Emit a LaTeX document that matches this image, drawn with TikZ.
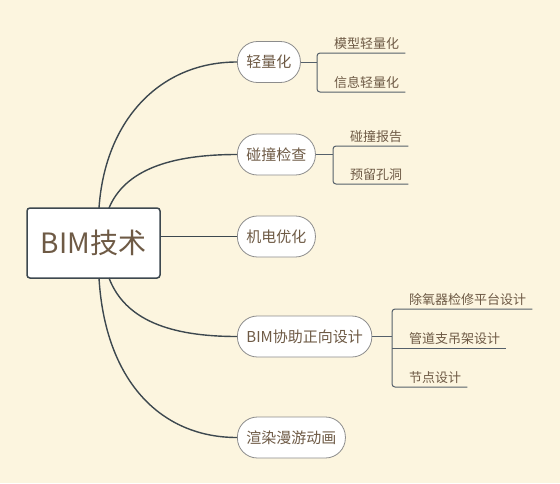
\documentclass[tikz,border=0pt]{standalone}
\usepackage{fontspec}
\setmainfont{Noto Sans CJK SC}
\usetikzlibrary{positioning}
\definecolor{Canvas}{HTML}{FCF5DF}
\definecolor{Ink}{HTML}{6E5A45}
\definecolor{Wire}{HTML}{3D484F}
\definecolor{Rim}{HTML}{8C8C8C}
\definecolor{Stem}{HTML}{55606A}

\begin{document}
\begin{tikzpicture}[
    x=1pt, y=-1pt,
    text=Ink,
    rootbox/.style={
        rounded corners=3pt,
        draw=Wire,
        line width=1.5pt,
        fill=white,
        minimum width=133pt,
        minimum height=70pt,
        font=\fontsize{28}{33}\selectfont
    },
    topic/.style={
        rounded corners=20pt,
        draw=Rim,
        line width=0.8pt,
        fill=white,
        anchor=west,
        inner xsep=9pt,
        minimum height=41pt,
        minimum width=41pt,
        font=\fontsize{15}{18}\selectfont
    },
    leaf/.style={
        anchor=south west,
        inner xsep=6pt,
        inner ysep=3pt,
        font=\fontsize{13}{15}\selectfont
    },
    branch/.style={
        draw=Wire,
        line width=1.4pt
    },
    bracket/.style={
        draw=Stem,
        line width=1pt
    }
]

% Background
\fill[Canvas] (0,0) rectangle (560,483);
\useasboundingbox (0,0) rectangle (560,483);

% Central topic
\node[rootbox] (bim) at (93.5,243) {BIM技术};
\coordinate (bimtopa) at (99,208);
\coordinate (bimtopb) at (109,208);
\coordinate (bimbota) at (99,278);
\coordinate (bimbotb) at (109,278);

% Main topics
\node[topic] (light) at (237,62) {轻量化};
\node[topic] (clash) at (237,154.5) {碰撞检查};
\node[topic] (mep) at (237,236.5) {机电优化};
\node[topic] (design) at (237,336.5) {BIM协助正向设计};
\node[topic] (render) at (237,437.5) {渲染漫游动画};

% Branches
\draw[branch] (bimtopa) .. controls (105,120) and (160,62) .. (light.west);
\draw[branch] (bimtopb) .. controls (125,170) and (170,154.5) .. (clash.west);
\draw[branch] (bim.east |- mep.west) -- (mep.west);
\draw[branch] (bimbotb) .. controls (125,320) and (170,336.5) .. (design.west);
\draw[branch] (bimbota) .. controls (105,380) and (160,437.5) .. (render.west);

% Subtopics of 轻量化
\coordinate (blight) at (317,62);
\node[leaf] (lightmodel) at (328,53) {模型轻量化};
\node[leaf] (lightinfo) at (328,92) {信息轻量化};
\draw[bracket] (light.east) -- (blight);
\draw[bracket, rounded corners=3pt] (lightmodel.south east) -- (lightmodel.south east -| blight)
    -- (lightinfo.south east -| blight) -- (lightinfo.south east);

% Subtopics of 碰撞检查
\coordinate (bclash) at (333,154.5);
\node[leaf] (clashreport) at (344,146) {碰撞报告};
\node[leaf] (clashhole) at (344,184) {预留孔洞};
\draw[bracket] (clash.east) -- (bclash);
\draw[bracket, rounded corners=3pt] (clashreport.south east) -- (clashreport.south east -| bclash)
    -- (clashhole.south east -| bclash) -- (clashhole.south east);

% Subtopics of BIM协助正向设计
\coordinate (bdesign) at (392,336.5);
\node[leaf] (designdeox) at (403,309) {除氧器检修平台设计};
\node[leaf] (designpipe) at (403,348) {管道支吊架设计};
\node[leaf] (designnode) at (403,387) {节点设计};
\draw[bracket] (design.east) -- (bdesign);
\draw[bracket, rounded corners=3pt] (designdeox.south east) -- (designdeox.south east -| bdesign)
    -- (designnode.south east -| bdesign) -- (designnode.south east);
\draw[bracket] (designpipe.south east -| bdesign) -- (designpipe.south east);

\end{tikzpicture}
\end{document}
